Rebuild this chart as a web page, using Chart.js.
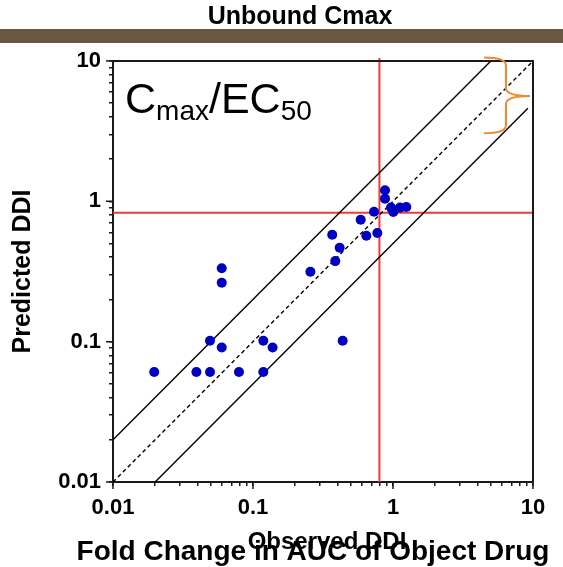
<!DOCTYPE html>
<html>
<head>
<meta charset="utf-8">
<script src="https://cdn.jsdelivr.net/npm/chart.js@4.4.1/dist/chart.umd.min.js"></script>
<style>
  html, body { margin: 0; padding: 0; background: #fff; }
  #wrap { width: 563px; height: 567px; }
</style>
</head>
<body>
<div id="wrap"><canvas id="cDDI" width="563" height="567"></canvas></div>
<script>
// Observed vs predicted DDI (fold change in AUC)
const observedDDI  = [0.0197, 0.0394, 0.0493, 0.0493, 0.0598, 0.0598, 0.0598, 0.0794, 0.1185, 0.1185, 0.138,
                      0.257, 0.368, 0.387, 0.416, 0.437, 0.588, 0.645, 0.773, 0.732, 0.877, 0.877, 0.968, 1.005, 1.122, 1.245];
const predictedDDI = [0.0608, 0.0608, 0.1016, 0.0608, 0.334, 0.263, 0.091, 0.0608, 0.1016, 0.0608, 0.091,
                      0.315, 0.578, 0.375, 0.467, 0.1016, 0.74, 0.569, 0.594, 0.844, 1.2, 1.045, 0.902, 0.839, 0.902, 0.911];

// reference lines: unity and 2-fold bounds
const unityX = [0.01, 10],  unityY = [0.01, 10];
const upperX = [0.01, 5],   upperY = [0.02, 10];
const lowerX = [0.02, 9.2], lowerY = [0.01, 4.6];
// red cut-offs
const cutX = 0.8;
const cutY = 0.83;

const decades = [0.01, 0.1, 1, 10];
const tickLabels = ['0.01', '0.1', '1', '10'];

// brace in data units (x: tips / stem / point, y: top / middle / bottom)
const braceX = [4.47, 6.41, 9.52];
const braceY = [10.6, 5.62, 3.06];

const FONT = "'Liberation Sans', Arial, sans-serif";
const pts = (xs, ys) => xs.map((x, i) => ({ x: x, y: ys[i] }));
const isDecade = v => Math.abs(Math.log10(v) - Math.round(Math.log10(v))) < 1e-6;
const decadeLabel = v => isDecade(v) ? tickLabels[decades.findIndex(d => Math.abs(d - v) < 1e-9)] : '';

const minorTicks = [];
decades.slice(0, -1).forEach(d => { for (let k = 1; k < 10; k++) minorTicks.push(+(d * k).toPrecision(3)); });
minorTicks.push(10);

const decor = {
    id: 'decor',
    afterDraw(chart) {
        const c = chart.ctx;
        const a = chart.chartArea;
        const sx = chart.scales.x, sy = chart.scales.y;
        c.save();

        // frame top / right
        c.strokeStyle = '#1a1a1a';
        c.lineWidth = 2;
        c.beginPath();
        c.moveTo(a.left, a.top); c.lineTo(a.right, a.top); c.lineTo(a.right, a.bottom);
        c.stroke();

        // longer decade ticks
        c.lineWidth = 1.5;
        c.beginPath();
        decades.forEach(v => {
            const px = sx.getPixelForValue(v);
            c.moveTo(px, a.bottom); c.lineTo(px, a.bottom + 7);
            const py = sy.getPixelForValue(v);
            c.moveTo(a.left - 7, py); c.lineTo(a.left, py);
        });
        c.stroke();

        // orange brace
        const bx = braceX.map(v => sx.getPixelForValue(v));
        const by = braceY.map(v => sy.getPixelForValue(v));
        c.strokeStyle = '#f08a30';
        c.lineWidth = 2;
        c.beginPath();
        c.moveTo(bx[0], by[0]);
        c.quadraticCurveTo(bx[1], by[0], bx[1], by[0] + 8);
        c.lineTo(bx[1], by[1] - 8);
        c.quadraticCurveTo(bx[1], by[1], bx[2], by[1]);
        c.quadraticCurveTo(bx[1], by[1], bx[1], by[1] + 8);
        c.lineTo(bx[1], by[2] - 8);
        c.quadraticCurveTo(bx[1], by[2], bx[0], by[2]);
        c.stroke();

        // Cmax/EC50 label
        c.fillStyle = '#000';
        c.textBaseline = 'alphabetic';
        c.textAlign = 'left';
        let x = a.left + 12;
        const base = a.top + 52;
        const parts = [['C', 43, 0], ['max', 28, 7], ['/', 43, 0], ['EC', 43, 0], ['50', 28, 7]];
        parts.forEach(p => {
            c.font = p[1] + 'px ' + FONT;
            c.fillText(p[0], x, base + p[2]);
            x += c.measureText(p[0]).width;
        });

        // title + brown band
        c.font = 'bold 25px ' + FONT;
        c.textAlign = 'center';
        c.fillText('Unbound Cmax', 300, 24);
        c.fillStyle = '#6a5742';
        c.fillRect(0, 29, chart.width, 14);

        // axis titles
        c.fillStyle = '#000';
        c.font = 'bold 24px ' + FONT;
        c.textBaseline = 'middle';
        c.fillText('Observed DDI', (a.left + a.right) / 2 + 4, 542);
        c.font = 'bold 28px ' + FONT;
        c.textBaseline = 'alphabetic';
        c.fillText('Fold Change in AUC of Object Drug', 313, 560);

        c.translate(23, (a.top + a.bottom) / 2);
        c.rotate(-Math.PI / 2);
        c.font = 'bold 25px ' + FONT;
        c.textBaseline = 'middle';
        c.fillText('Predicted DDI', 0, 0);
        c.restore();
    }
};

const tickFont = { family: FONT, weight: 'bold', size: 22 };

const chDDI = new Chart(document.getElementById('cDDI').getContext('2d'), {
    type: 'scatter',
    data: {
        datasets: [
            {
                label: 'DDI',
                data: pts(observedDDI, predictedDDI),
                backgroundColor: '#0000c0',
                borderWidth: 0,
                pointRadius: 5
            },
            {
                label: 'Unity',
                data: pts(unityX, unityY),
                showLine: true,
                borderColor: '#000',
                borderWidth: 1.4,
                borderDash: [4, 3],
                pointRadius: 0
            },
            {
                label: 'Upper 2-fold',
                data: pts(upperX, upperY),
                showLine: true,
                borderColor: '#000',
                borderWidth: 1.4,
                pointRadius: 0
            },
            {
                label: 'Lower 2-fold',
                data: pts(lowerX, lowerY),
                showLine: true,
                borderColor: '#000',
                borderWidth: 1.4,
                pointRadius: 0
            },
            {
                label: 'Cut x',
                data: [{ x: cutX, y: 0.01 }, { x: cutX, y: 10.5 }],
                showLine: true,
                borderColor: '#f03a3a',
                borderWidth: 2,
                pointRadius: 0,
                clip: false
            },
            {
                label: 'Cut y',
                data: [{ x: 0.01, y: cutY }, { x: 10, y: cutY }],
                showLine: true,
                borderColor: '#f03a3a',
                borderWidth: 2,
                pointRadius: 0
            }
        ]
    },
    options: {
        responsive: false,
        animation: false,
        devicePixelRatio: 1,
        layout: { padding: { top: 61, right: 30, left: 0, bottom: 0 } },
        plugins: { legend: { display: false }, tooltip: { enabled: false } },
        scales: {
            x: {
                type: 'logarithmic',
                min: 0.01,
                max: 10,
                afterFit: s => { s.height = 85; },
                afterBuildTicks: s => { s.ticks = minorTicks.map(v => ({ value: v })); },
                grid: { drawOnChartArea: false, tickLength: 4, color: '#1a1a1a', lineWidth: 1.5 },
                border: { color: '#1a1a1a', width: 2 },
                ticks: {
                    autoSkip: false,
                    maxRotation: 0,
                    padding: 9,
                    color: '#000',
                    font: tickFont,
                    callback: decadeLabel
                }
            },
            y: {
                type: 'logarithmic',
                min: 0.01,
                max: 10,
                afterFit: s => { s.width = 113; },
                afterBuildTicks: s => { s.ticks = minorTicks.map(v => ({ value: v })); },
                grid: { drawOnChartArea: false, tickLength: 4, color: '#1a1a1a', lineWidth: 1.5 },
                border: { color: '#1a1a1a', width: 2 },
                ticks: {
                    autoSkip: false,
                    padding: 8,
                    color: '#000',
                    font: tickFont,
                    callback: decadeLabel
                }
            }
        }
    },
    plugins: [decor]
});
</script>
</body>
</html>
